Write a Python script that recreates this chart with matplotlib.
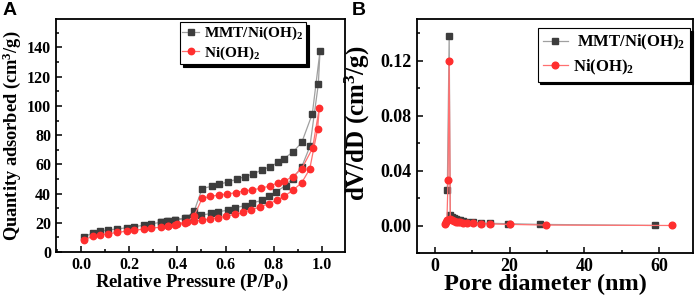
import matplotlib
matplotlib.use("Agg")
import matplotlib.pyplot as plt
from matplotlib.ticker import MultipleLocator

plt.rcParams['font.family'] = ['Liberation Serif', 'DejaVu Serif']
plt.rcParams['font.weight'] = 'bold'
plt.rcParams['mathtext.fontset'] = 'custom'
plt.rcParams['mathtext.rm'] = 'Liberation Serif:bold'
plt.rcParams['mathtext.it'] = 'Liberation Serif:bold'
plt.rcParams['mathtext.bf'] = 'Liberation Serif:bold'

# ---- Panel A data: N2 isotherms ----
mmt_ads_x = [0.01, 0.05, 0.08, 0.11, 0.15, 0.19, 0.22, 0.26, 0.29, 0.33, 0.36, 0.39, 0.43, 0.465,
             0.50, 0.54, 0.57, 0.61, 0.64, 0.68, 0.71, 0.75, 0.78, 0.81, 0.85, 0.88, 0.917, 0.951, 0.986, 0.993]
mmt_ads_y = [10.1, 13.3, 14.3, 15.0, 15.8, 16.6, 17.3, 18.3, 19.2, 20.3, 21.0, 21.8, 23.0, 24.0,
             25.2, 26.4, 27.5, 28.7, 30.3, 31.7, 33.5, 35.3, 38.3, 41.3, 45.4, 50.3, 58.3, 72.3, 115.0, 137.7]
mmt_des_x = [0.961, 0.917, 0.882, 0.843, 0.82, 0.785, 0.75, 0.715, 0.681, 0.646, 0.611, 0.574, 0.542,
             0.503, 0.469, 0.435, 0.39, 0.355, 0.33]
mmt_des_y = [94.6, 75.0, 68.6, 64.0, 61.3, 58.5, 56.0, 53.5, 51.6, 49.8, 48.0, 46.4, 45.0,
             43.4, 27.8, 23.4, 22.0, 21.0, 20.4]

ni_ads_x = [0.01, 0.05, 0.08, 0.11, 0.15, 0.19, 0.22, 0.26, 0.29, 0.33, 0.36, 0.39, 0.43, 0.469,
            0.504, 0.535, 0.569, 0.604, 0.639, 0.673, 0.708, 0.743, 0.78, 0.815, 0.845, 0.88, 0.917, 0.95, 0.983, 0.99]
ni_ads_y = [8.3, 10.8, 11.7, 12.4, 13.4, 14.3, 15.0, 15.6, 16.3, 17.0, 17.6, 18.5, 19.6, 21.1,
            21.8, 22.7, 23.4, 24.6, 25.7, 27.1, 28.9, 30.8, 33.0, 35.6, 38.3, 42.2, 47.5, 56.7, 84.2, 98.7]
ni_des_x = [0.962, 0.917, 0.88, 0.845, 0.82, 0.785, 0.746, 0.711, 0.676, 0.642, 0.607, 0.572, 0.537,
            0.503, 0.469, 0.44, 0.40, 0.36]
ni_des_y = [71.0, 57.1, 51.6, 48.6, 47.5, 45.2, 43.6, 42.5, 41.8, 40.6, 39.7, 39.0, 38.1,
            36.7, 24.6, 20.8, 19.3, 18.0]

# ---- Panel B data: pore size distribution ----
mmt_pd_x = [3.3, 3.8, 4.1, 4.5, 5.0, 5.5, 6.1, 6.8, 7.6, 8.6, 10.2, 12.3, 14.7, 19.6, 28.1, 58.8]
mmt_pd_y = [0.026, 0.138, 0.0075, 0.0065, 0.0058, 0.005, 0.0045, 0.004, 0.0035, 0.003, 0.0025,
            0.002, 0.0018, 0.0015, 0.001, 0.0002]
ni_pd_x = [2.6, 2.9, 3.2, 3.5, 3.8, 4.1, 4.5, 5.0, 5.5, 6.1, 6.8, 7.6, 8.6, 10.2, 12.3, 14.7, 20.0, 29.7, 63.5]
ni_pd_y = [0.001, 0.003, 0.004, 0.0335, 0.120, 0.005, 0.004, 0.0035, 0.003, 0.0028, 0.0025, 0.0022,
           0.002, 0.0018, 0.0015, 0.0013, 0.001, 0.0005, 0.0002]

labels_A = ['MMT/Ni(OH)$_2$', 'Ni(OH)$_2$']
labels_B = [' MMT/Ni(OH)$_2$', 'Ni(OH)$_2$']

gray_line = '#a0a0a0'
gray_mark = '#3d3d3d'
red_line = '#ff7070'
red_mark = '#ff2e2e'

fig = plt.figure(figsize=(6.99, 3.01), dpi=100)
axA = fig.add_axes([0.0801, 0.1628, 0.4135, 0.7741])
axB = fig.add_axes([0.5961, 0.1585, 0.3949, 0.7774])

def style(ax, size):
    for s in ax.spines.values():
        s.set_linewidth(1.3)
    ax.tick_params(which='both', direction='in', top=False, right=False, labelsize=size, width=1.1)
    ax.tick_params(which='major', length=4)
    ax.tick_params(which='minor', length=2.5)
    for lbl in ax.get_xticklabels() + ax.get_yticklabels():
        lbl.set_fontweight('bold')

# Panel A
axA.plot(mmt_ads_x + mmt_des_x, mmt_ads_y + mmt_des_y, color=gray_line, lw=0.9,
         marker='s', ms=4.2, mfc=gray_mark, mec=gray_mark, label=labels_A[0])
axA.plot(ni_ads_x + ni_des_x, ni_ads_y + ni_des_y, color=red_line, lw=0.9,
         marker='o', ms=4.6, mfc=red_mark, mec=red_mark, label=labels_A[1])
axA.set_xlim(-0.105, 1.097)
axA.set_ylim(0, 159.5)
axA.xaxis.set_major_locator(MultipleLocator(0.2))
axA.xaxis.set_minor_locator(MultipleLocator(0.1))
axA.yaxis.set_major_locator(MultipleLocator(20))
axA.yaxis.set_minor_locator(MultipleLocator(10))
axA.set_xticks([0.0, 0.2, 0.4, 0.6, 0.8, 1.0])
axA.set_xticklabels(['0.0', '0.2', '0.4', '0.6', '0.8', '1.0'])
axA.set_xlabel('Relative Pressure (P/P$_0$)', fontsize=13.5, fontweight='bold')
axA.set_ylabel('Quantity adsorbed (cm$^3$/g)', fontsize=13.2, fontweight='bold')
axA.xaxis.set_label_coords(0.47, -0.085)
axA.yaxis.set_label_coords(-0.113, 0.5)
style(axA, 11.5)
legA = axA.legend(loc='upper right', bbox_to_anchor=(0.865, 0.985), fontsize=11, fancybox=False,
                  edgecolor='black', framealpha=1, shadow={'color': 'black', 'alpha': 1},
                  handlelength=1.1, handletextpad=0.35, borderpad=0.15, labelspacing=0.15,
                  borderaxespad=0)
legA.get_frame().set_linewidth(0.8)

# Panel B
axB.plot(mmt_pd_x, mmt_pd_y, color=gray_line, lw=0.9, marker='s', ms=4.4,
         mfc=gray_mark, mec=gray_mark, label=labels_B[0])
axB.plot(ni_pd_x, ni_pd_y, color=red_line, lw=0.9, marker='o', ms=4.8,
         mfc=red_mark, mec=red_mark, label=labels_B[1])
axB.set_xlim(-4.9, 69)
axB.set_ylim(-0.02, 0.150)
axB.xaxis.set_major_locator(MultipleLocator(20))
axB.xaxis.set_minor_locator(MultipleLocator(10))
axB.yaxis.set_major_locator(MultipleLocator(0.04))
axB.yaxis.set_minor_locator(MultipleLocator(0.02))
axB.set_yticks([0.0, 0.04, 0.08, 0.12])
axB.set_yticklabels(['0.00', '0.04', '0.08', '0.12'])
axB.set_xlabel('Pore diameter (nm)', fontsize=17.5, fontweight='bold')
axB.set_ylabel('dV/dD (cm$^3$/g)', fontsize=18, fontweight='bold')
axB.xaxis.set_label_coords(0.465, -0.09)
axB.yaxis.set_label_coords(-0.163, 0.555)
style(axB, 13)
legB = axB.legend(loc='upper right', bbox_to_anchor=(0.99, 0.962), fontsize=12, fancybox=False,
                  edgecolor='black', framealpha=1, shadow={'color': 'black', 'alpha': 1},
                  handlelength=1.5, handletextpad=0.3, borderpad=0.3, labelspacing=0.3,
                  borderaxespad=0)
legB.get_frame().set_linewidth(0.8)

fig.text(0.003, 0.995, 'A', fontsize=14, fontweight='bold', family='Liberation Sans', va='top', ha='left')
fig.text(0.503, 0.995, 'B', fontsize=14, fontweight='bold', family='Liberation Sans', va='top', ha='left')

fig.savefig('out.png', dpi=100)
